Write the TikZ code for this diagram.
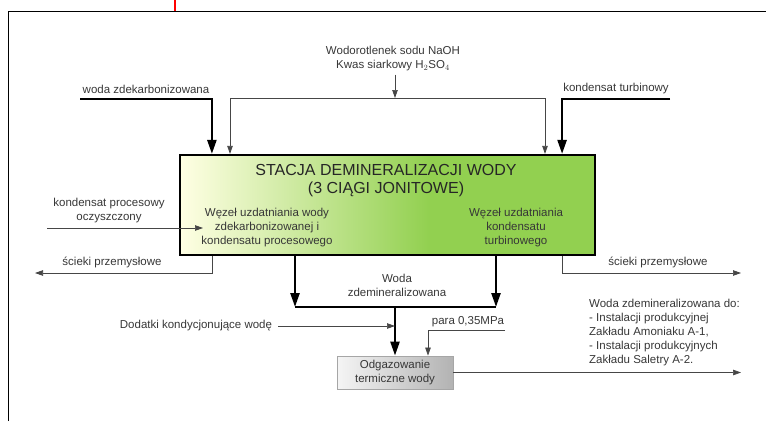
\documentclass[tikz,border=0pt]{standalone}
\usepackage{fontspec}
\setmainfont{Liberation Sans}
\usetikzlibrary{arrows.meta,calc}
\usepackage{xcolor}

\definecolor{zielen}{RGB}{146,208,80}
\definecolor{kremowy}{RGB}{255,255,228}
\definecolor{tekst}{RGB}{55,55,55}
\definecolor{linia}{RGB}{70,70,70}
\pgfdeclarehorizontalshading{stacjacien}{100bp}{color(0bp)=(kremowy); color(25bp)=(kremowy); color(55bp)=(zielen); color(100bp)=(zielen)}

\tikzset{
    opis/.style={font=\fontsize{11.5}{14}\selectfont, text=tekst, align=center, inner sep=0pt},
    tytul/.style={font=\fontsize{16}{18}\selectfont, text=black!85, align=center, inner sep=0pt},
    stacja/.style={draw, line width=2.2pt, shade, shading=stacjacien, minimum width=415pt, minimum height=100pt, inner sep=0pt},
    odgaz/.style={draw=gray!70, line width=0.8pt, left color=gray!8, right color=gray!60, minimum width=116pt, minimum height=33pt, inner sep=0pt, opis},
    gruba/.style={line width=2.4pt, -{Triangle[length=14pt,width=9pt]}},
    cienka/.style={line width=0.7pt, draw=linia, -{Triangle[length=8pt,width=5.5pt]}},
}

\begin{document}
\begin{tikzpicture}[x=1pt, y=-1pt]
    \useasboundingbox (0,0) rectangle (766,421);
    \draw[line width=0.8pt] (8,421) -- (8,11) -- (766,11);
    \draw[red, line width=1.5pt] (175,0) -- (175,11);
    \node[stacja] (stacja) at (387.5,205) {};
    \node[tytul] (naglowek) at (386,181) {STACJA DEMINERALIZACJI WODY\\(3 CIĄGI JONITOWE)};
    \node[opis] (wezelL) at (267,228) {Węzeł uzdatniania wody\\zdekarbonizowanej i\\kondensatu procesowego};
    \node[opis] (wezelR) at (516,228) {Węzeł uzdatniania\\kondensatu\\turbinowego};
    \node[odgaz] (odg) at (395,372.5) {Odgazowanie\\termiczne wody};
    \node[opis] (chem) at (393,59) {Wodorotlenek sodu NaOH\\Kwas siarkowy H$_2$SO$_4$};
    \node[opis] (wzOpis) at (146,89) {woda zdekarbonizowana};
    \node[opis] (ktOpis) at (616,89) {kondensat turbinowy};
    \node[opis] (kpOpis) at (109,211) {kondensat procesowy\\oczyszczony};
    \node[opis] (sciekiLOpis) at (112,262) {ścieki przemysłowe};
    \node[opis] (sciekiROpis) at (658,262) {ścieki przemysłowe};
    \node[opis] (demOpis) at (397,285.5) {Woda\\zdemineralizowana};
    \node[opis] (dod) at (196,326) {Dodatki kondycjonujące wodę};
    \node[opis] (para) at (468,322) {para 0,35MPa};
    \node[opis, align=left, anchor=west] (cel) at (589,333) {Woda zdemineralizowana do:\\- Instalacji produkcyjnej\\Zakładu Amoniaku A-1,\\- Instalacji produkcyjnych\\Zakładu Saletry A-2.};
    \coordinate (wzStart) at (80,99);
    \coordinate (ktStart) at (670,99);
    \coordinate (chemJ) at (395,98);
    \coordinate (chemL) at (230,98);
    \coordinate (chemR) at (545,98);
    \coordinate (kpStart) at (47,228);
    \coordinate (kpEnd) at (203,228);
    \coordinate (sciekiL) at (35,273);
    \coordinate (sciekiR) at (741,273);
    \coordinate (demL) at (295,307);
    \coordinate (demR) at (496,307);
    \coordinate (demM) at (395,307);
    \coordinate (paraStart) at (505,330);
    \coordinate (wyjscie) at (741,372.5);
    \draw[gruba] (wzStart) -| ([xshift=33pt]stacja.north west);
    \draw[gruba] (ktStart) -| ([xshift=-34pt]stacja.north east);
    \draw[cienka] (chem.south) ++(2,3) -- (chemJ);
    \draw[cienka, -] (chemL) -- (chemR);
    \draw[cienka] (chemL) -- (chemL |- stacja.north);
    \draw[cienka] (chemR) -- (chemR |- stacja.north);
    \draw[cienka] (kpStart) -- (kpEnd);
    \draw[cienka] ([xshift=33pt]stacja.south west) |- (sciekiL);
    \draw[cienka] ([xshift=-34pt]stacja.south east) |- (sciekiR);
    \draw[gruba] (demL |- stacja.south) -- (demL);
    \draw[gruba] (demR |- stacja.south) -- (demR);
    \draw[gruba, -] (demL) -- (demR);
    \draw[gruba] (demM) -- (odg.north);
    \draw[cienka] ([xshift=6pt]dod.east) -- (demM |- dod);
    \draw[cienka] (paraStart) -| ([xshift=33pt]odg.north);
    \draw[cienka] (odg.east) -- (wyjscie);
\end{tikzpicture}
\end{document}
